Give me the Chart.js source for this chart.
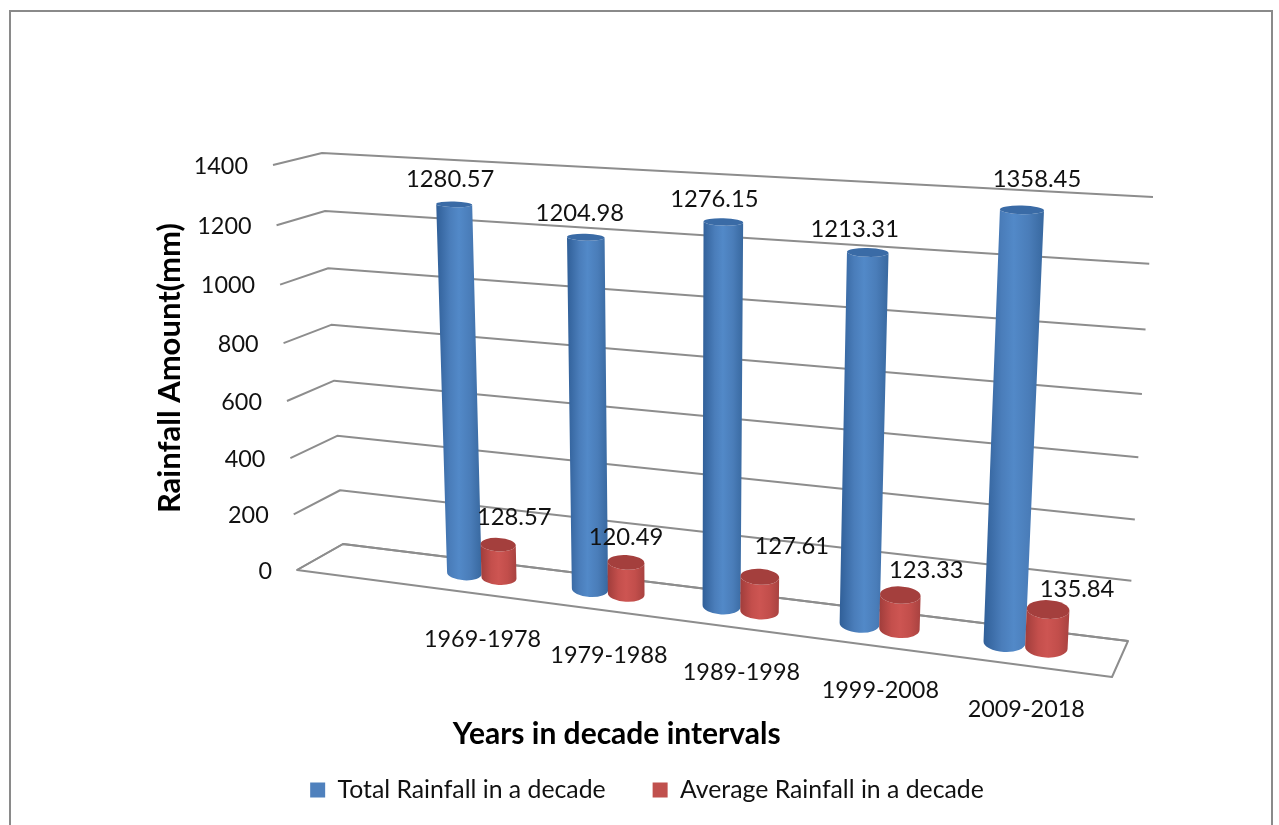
<!DOCTYPE html>
<html>
<head>
<meta charset="utf-8">
<title>Rainfall per decade</title>
<script src="https://cdn.jsdelivr.net/npm/chart.js@4/dist/chart.umd.js"></script>
<style>
  html, body { margin: 0; padding: 0; background: #fff; overflow: hidden; }
  canvas { display: block; }
</style>
</head>
<body>
<canvas id="rain" width="1279" height="825"></canvas>
<script>
// Rainfall figures per decade
const categories = ['1969-1978', '1979-1988', '1989-1998', '1999-2008', '2009-2018'];
const totalRainfall = [1280.57, 1204.98, 1276.15, 1213.31, 1358.45];
const averageRainfall = [128.57, 120.49, 127.61, 123.33, 135.84];

// Hand placement of the value labels relative to each column's top
const totalLabelNudge = [[-4, -25], [-6, -24], [-9, -23], [-13, -23], [15, -31]];
const averageLabelNudge = [[16, -27], [0, -25], [32, -30], [26, -25], [29, -20]];

const FONT = 'Lato, "Open Sans", sans-serif';
const TEXT = '#111';
const WALL_LINE = '#8d8d8d';

// Maps the unit square onto a screen quadrilateral (projective transform).
function quad(p00, p10, p11, p01) {
  const dx1 = p10[0] - p11[0], dx2 = p01[0] - p11[0], sx = p00[0] - p10[0] + p11[0] - p01[0];
  const dy1 = p10[1] - p11[1], dy2 = p01[1] - p11[1], sy = p00[1] - p10[1] + p11[1] - p01[1];
  const den = dx1 * dy2 - dx2 * dy1;
  const g = (sx * dy2 - dx2 * sy) / den, h = (dx1 * sy - sx * dy1) / den;
  const a = p10[0] - p00[0] + g * p10[0], b = p01[0] - p00[0] + h * p01[0], c = p00[0];
  const d = p10[1] - p00[1] + g * p10[1], e = p01[1] - p00[1] + h * p01[1], f = p00[1];
  return (u, v) => {
    const w = g * u + h * v + 1;
    return { x: (a * u + b * v + c) / w, y: (d * u + e * v + f) / w };
  };
}

// Perspective planes of the 3-D scene
const sideWall = quad([297, 570], [343, 544], [322, 153], [273, 165]);
const backWall = quad([343, 544], [1128, 641], [1153, 197], [322, 153]);
const columnPlane = quad([420.5, 567.7], [1101, 654.7], [1125, 200], [407.1, 162.5]);
const floorOutline = [[297, 570], [343, 544], [1128, 641], [1112, 677]];

const decimalOf = (scale, value) => (value - scale.min) / (scale.max - scale.min);

// Column heights compress a little further near the floor
const heightCurve = v => v - 0.09 * v * (1 - v);

// Value axis whose labels follow the front edge of the side wall
class WallValueScale extends Chart.LinearScale {
  static id = 'wallValue';
  static defaults = {};
  _computeLabelArea() { return undefined; }
  _computeLabelItems(area) {
    const items = super._computeLabelItems(area);
    items.forEach((item, i) => {
      const p = sideWall(0, decimalOf(this, this.ticks[i].value));
      item.options.translation = [p.x - 25, p.y + 1];
    });
    return items;
  }
}

// Category axis whose labels follow the slanted floor
class FloorCategoryScale extends Chart.CategoryScale {
  static id = 'floorCategory';
  static defaults = {};
  _computeLabelArea() { return undefined; }
  _computeLabelItems(area) {
    const items = super._computeLabelItems(area);
    items.forEach((item, i) => {
      const u = (this.getPixelForTick(i) - this.left) / this.width;
      const p = columnPlane(u, 0);
      item.options.translation = [p.x + 1, p.y + 50];
    });
    return items;
  }
}
Chart.register(WallValueScale, FloorCategoryScale);

function planeCoords(chart, el) {
  const a = chart.chartArea;
  return {
    u: (el.x - a.left) / (a.right - a.left),
    v: (a.bottom - el.y) / (a.bottom - a.top),
    du: el.width / 2 / (a.right - a.left)
  };
}

// Ellipse flattening grows towards the floor and towards the right of the scene
const flatten = (u, v) => 0.40 - 0.27 * v + 0.07 * u;

function drawColumn(ctx, coords, shade) {
  const { u, v, du } = coords;
  const ring = vv => {
    const l = columnPlane(u - du, heightCurve(vv)), r = columnPlane(u + du, heightCurve(vv));
    const rx = Math.hypot(r.x - l.x, r.y - l.y) / 2;
    return {
      x: (l.x + r.x) / 2, y: (l.y + r.y) / 2, rx,
      ry: rx * flatten(u, vv),
      rot: Math.atan2(r.y - l.y, r.x - l.x) * 0.45
    };
  };
  const top = ring(v), bot = ring(0);
  const gx0 = Math.min(top.x - top.rx, bot.x - bot.rx);
  const gx1 = Math.max(top.x + top.rx, bot.x + bot.rx);
  const grad = ctx.createLinearGradient(gx0, 0, gx1, 0);
  shade.body.forEach(([at, col]) => grad.addColorStop(at, col));

  ctx.beginPath();
  ctx.ellipse(top.x, top.y, top.rx, top.ry, top.rot, Math.PI, 0, true);
  ctx.lineTo(bot.x + bot.rx * Math.cos(bot.rot), bot.y + bot.rx * Math.sin(bot.rot));
  ctx.ellipse(bot.x, bot.y, bot.rx, bot.ry, bot.rot, 0, Math.PI, false);
  ctx.closePath();
  ctx.fillStyle = grad;
  ctx.fill();

  ctx.beginPath();
  ctx.ellipse(top.x, top.y, top.rx, top.ry, top.rot, 0, Math.PI * 2);
  ctx.fillStyle = shade.cap;
  ctx.fill();
  return top;
}

const shades = [
  { cap: '#3a6ba6', body: [[0, '#305f98'], [0.3, '#4a7dba'], [0.5, '#5289c8'], [0.75, '#4a7db9'], [1, '#38689f']] },
  { cap: '#a43f3d', body: [[0, '#a03d3b'], [0.3, '#c44f4c'], [0.5, '#cd5552'], [0.75, '#c24e4b'], [1, '#a84240']] }
];
const nudges = [totalLabelNudge, averageLabelNudge];

const scenePlugin = {
  id: 'rainfallScene',
  beforeDraw(chart) {
    const ctx = chart.ctx;
    ctx.save();
    ctx.strokeStyle = '#8a8a8a';
    ctx.lineWidth = 2;
    ctx.strokeRect(10, 11, 1262, 840);
    ctx.restore();
  },
  afterLayout(chart) {
    // The wide legend item gap also pads the legend vertically; keep its row in place
    const lg = chart.legend;
    const pad = lg.options.labels.padding, size = lg.options.labels.font.size;
    const h = lg.bottom - lg.top;
    lg.top = 790 - size / 2 - pad;
    lg.bottom = lg.top + h;
    lg.left += 87;
    lg.right += 87;
  },
  beforeDatasetsDraw(chart) {
    const ctx = chart.ctx, ys = chart.scales.y;
    ctx.save();
    ctx.strokeStyle = WALL_LINE;
    ctx.lineWidth = 2;
    ctx.lineJoin = 'round';
    ys.ticks.forEach(t => {
      const v = decimalOf(ys, t.value);
      const a = sideWall(0, v), b = sideWall(1, v), c = backWall(1, v);
      ctx.beginPath();
      ctx.moveTo(a.x, a.y);
      ctx.lineTo(b.x, b.y);
      ctx.lineTo(c.x, c.y);
      ctx.stroke();
    });
    ctx.beginPath();
    floorOutline.forEach(([x, y], i) => (i ? ctx.lineTo(x, y) : ctx.moveTo(x, y)));
    ctx.closePath();
    ctx.stroke();
    ctx.restore();
  },
  // Columns are drawn here in perspective, so the flat bars stay undrawn
  beforeDatasetDraw() { return false; },
  afterDatasetsDraw(chart) {
    const ctx = chart.ctx;
    const metas = chart.data.datasets.map((_, i) => chart.getDatasetMeta(i));
    const labels = [];
    categories.forEach((_, i) => {
      metas.forEach((meta, s) => {
        const top = drawColumn(ctx, planeCoords(chart, meta.data[i]), shades[s]);
        labels.push({ text: chart.data.datasets[s].data[i].toFixed(2), x: top.x + nudges[s][i][0], y: top.y + nudges[s][i][1] });
      });
    });
    ctx.save();
    ctx.font = '23.8px ' + FONT;
    ctx.fillStyle = TEXT;
    ctx.textAlign = 'center';
    ctx.textBaseline = 'middle';
    labels.forEach(l => ctx.fillText(l.text, l.x, l.y));
    ctx.restore();
  }
};

new Chart(document.getElementById('rain'), {
  type: 'bar',
  data: {
    labels: categories,
    datasets: [
      { label: 'Total Rainfall in a decade', data: totalRainfall, backgroundColor: '#4f81bd', categoryPercentage: 0.56, barPercentage: 1 },
      { label: 'Average Rainfall in a decade', data: averageRainfall, backgroundColor: '#c0504d', categoryPercentage: 0.56, barPercentage: 1 }
    ]
  },
  plugins: [scenePlugin],
  options: {
    responsive: false,
    animation: false,
    layout: { padding: { left: 147, right: 306, top: 66, bottom: -13 } },
    plugins: {
      tooltip: { enabled: false },
      legend: {
        position: 'bottom',
        labels: {
          boxWidth: 15,
          boxHeight: 15,
          padding: 47,
          color: TEXT,
          font: { family: FONT, size: 24.8 }
        }
      }
    },
    scales: {
      x: {
        type: 'floorCategory',
        offset: true,
        grid: { display: false },
        border: { display: false },
        ticks: { color: TEXT, font: { family: FONT, size: 23.4 }, maxRotation: 0, autoSkip: false },
        title: { display: true, text: 'Years in decade intervals', color: '#000', font: { family: FONT, size: 30, weight: 'bold' } }
      },
      y: {
        type: 'wallValue',
        min: 0,
        max: 1400,
        grid: { display: false },
        border: { display: false },
        ticks: { stepSize: 200, color: TEXT, font: { family: FONT, size: 23.4 }, callback: v => String(v) },
        title: { display: true, text: 'Rainfall Amount(mm)', color: '#000', font: { family: FONT, size: 31, weight: 'bold' } }
      }
    }
  }
});
</script>
</body>
</html>
